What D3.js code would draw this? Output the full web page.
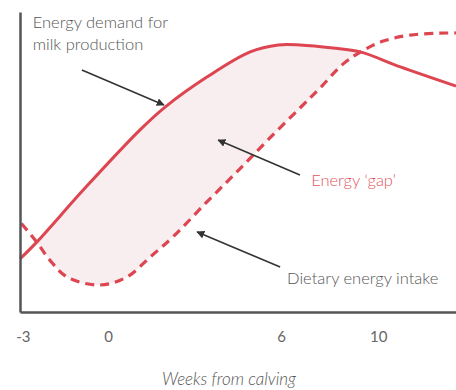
<!DOCTYPE html>
<html>
<head>
<meta charset="utf-8">
<script src="https://cdn.jsdelivr.net/npm/d3@7"></script>
<style>
  html, body { margin: 0; padding: 0; background: #fff; }
  svg { display: block; font-family: Lato, "DejaVu Sans", sans-serif; }
</style>
</head>
<body>
<div id="chart"></div>
<script>
// weeks from calving, tick labels
const tickWeeks = [-3, 0, 6, 10];

// energy demand for milk production (solid)
const demandWeeks = [-3.1, -2.51, -0.81, 1.11, 1.98, 3.43, 4.93, 5.9, 6.78, 8.14, 9.26, 10.91, 13.2];
const demandValues = [17.7, 23.3, 41.3, 60.7, 68.3, 78.3, 86.7, 89, 89, 88, 86.7, 81.7, 75.3];

// dietary energy intake (dashed)
const intakeWeeks = [-3.05, -2.51, -2.05, -1.45, -0.28, 0.66, 1.46, 2.25, 3.43, 4.47, 5.51, 6.78, 7.61, 8.56, 9.34, 10.21, 11.32, 12.85, 13.2];
const intakeValues = [29.5, 23.3, 17.3, 11.7, 9, 11.7, 18.3, 25, 36.7, 46.7, 57, 68, 74.7, 82.7, 87, 90.3, 92.3, 93, 93];

// annotations: text, anchor [week, value]
const labelTexts = ["Energy demand for", "milk production", "Energy \u2018gap\u2019", "Dietary energy intake"];
const labelAnchors = [[-2.65, 94.7], [-2.65, 87.3], [7.24, 42], [6.25, 9.3]];
// arrows: from [week, value] to [week, value]
const arrowFrom = [[-0.92, 80.7], [6.78, 45.7], [5.97, 15]];
const arrowTo = [[1.94, 69], [3.82, 57.3], [3.09, 26.7]];

const width = 456, height = 390;
const RED = "#dd4550";

function drawChart() {
    const x = d3.scaleLinear()
        .domain([-3.1, 0, 6, 13.2])
        .range([20, 108, 281, 456]);

    const y = d3.scaleLinear()
        .domain([0, 100])
        .range([312, 12]);

    const svg = d3.select("#chart")
        .append("svg")
        .attr("width", width)
        .attr("height", height);

    const demand = demandWeeks.map((w, i) => [w, demandValues[i]]);
    const intake = intakeWeeks.map((w, i) => [w, intakeValues[i]]);
    const curve = d3.curveCatmullRom.alpha(0.5);

    const defs = svg.append("defs");

    // region above the intake curve, used to clip the fill under demand
    defs.append("clipPath")
        .attr("id", "above-intake")
        .append("path")
        .attr("d", d3.area()
            .x(d => x(d[0]))
            .y0(0)
            .y1(d => y(d[1]))
            .curve(curve)(intake));

    defs.append("marker")
        .attr("id", "head")
        .attr("viewBox", "0 0 10 10")
        .attr("refX", 9)
        .attr("refY", 5)
        .attr("markerWidth", 8)
        .attr("markerHeight", 8)
        .attr("markerUnits", "userSpaceOnUse")
        .attr("orient", "auto")
        .append("path")
        .attr("d", "M0,0 L10,5 L0,10 z")
        .attr("fill", "#333");

    // energy gap fill
    svg.append("path")
        .attr("clip-path", "url(#above-intake)")
        .attr("fill", "#f8eef0")
        .attr("d", d3.area()
            .x(d => x(d[0]))
            .y0(y(0))
            .y1(d => y(d[1]))
            .curve(curve)(demand));

    const line = d3.line()
        .x(d => x(d[0]))
        .y(d => y(d[1]))
        .curve(curve);

    svg.append("path")
        .attr("fill", "none")
        .attr("stroke", RED)
        .attr("stroke-width", 3.2)
        .attr("stroke-dasharray", "9,6")
        .attr("d", line(intake));

    svg.append("path")
        .attr("fill", "none")
        .attr("stroke", RED)
        .attr("stroke-width", 3)
        .attr("d", line(demand));

    // axes
    const xAxis = d3.axisBottom(x)
        .tickValues(tickWeeks)
        .tickFormat(d => String(d))
        .tickSize(0)
        .tickPadding(19);

    const gx = svg.append("g")
        .attr("transform", `translate(0,${y(0)})`)
        .call(xAxis);
    gx.select(".domain").attr("stroke", "#555").attr("stroke-width", 2.5);
    gx.selectAll("text")
        .attr("fill", "#666")
        .style("font-size", "15px")
        .style("font-family", "Lato, sans-serif");

    const gy = svg.append("g")
        .attr("transform", `translate(${x(-3.1)},0)`)
        .call(d3.axisLeft(y).tickValues([]).tickSizeOuter(0));
    gy.select(".domain").attr("stroke", "#555").attr("stroke-width", 2.5);

    svg.append("text")
        .attr("x", 229)
        .attr("y", 385)
        .attr("text-anchor", "middle")
        .attr("fill", "#555")
        .style("font-size", "17px")
        .style("font-style", "italic")
        .style("font-weight", 300)
        .text("Weeks from calving");

    // arrows
    arrowFrom.forEach((f, i) => {
        svg.append("line")
            .attr("x1", x(f[0]))
            .attr("y1", y(f[1]))
            .attr("x2", x(arrowTo[i][0]))
            .attr("y2", y(arrowTo[i][1]))
            .attr("stroke", "#333")
            .attr("stroke-width", 1.6)
            .attr("marker-end", "url(#head)");
    });

    // labels
    labelTexts.forEach((t, i) => {
        svg.append("text")
            .attr("x", x(labelAnchors[i][0]))
            .attr("y", y(labelAnchors[i][1]))
            .attr("fill", i === 2 ? "#e0555c" : "#555")
            .style("font-size", "16.5px")
            .style("font-weight", 300)
            .text(t);
    });
}

drawChart();
</script>
</body>
</html>
